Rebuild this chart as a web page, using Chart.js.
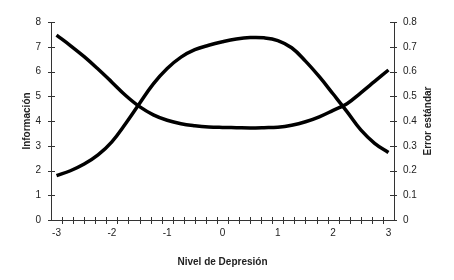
<!DOCTYPE html>
<html>
<head>
<meta charset="utf-8">
<script src="https://cdn.jsdelivr.net/npm/chart.js@4.4.1/dist/chart.umd.min.js"></script>
<style>
  html, body { margin: 0; padding: 0; background: #fff; }
  #wrap { width: 454px; height: 280px; }
</style>
</head>
<body>
<div id="wrap"><canvas id="chart" width="454" height="280"></canvas></div>
<script>
// Nivel de depresión (theta) where the curves were read, every 0.25
const nivel = [-3, -2.75, -2.5, -2.25, -2, -1.75, -1.5, -1.25, -1, -0.75, -0.5, -0.25,
  0, 0.25, 0.5, 0.75, 1, 1.25, 1.5, 1.75, 2, 2.25, 2.5, 2.75, 3];
// Función de información (eje izquierdo)
const informacion = [1.79, 1.99, 2.26, 2.63, 3.16, 3.9, 4.71, 5.5, 6.12, 6.58, 6.88, 7.06,
  7.2, 7.31, 7.37, 7.36, 7.25, 6.96, 6.42, 5.79, 5.09, 4.38, 3.64, 3.1, 2.73];
// Error estándar (eje derecho)
const errorEstandar = [0.747, 0.705, 0.66, 0.61, 0.557, 0.503, 0.458, 0.425, 0.403, 0.389, 0.381, 0.376,
  0.374, 0.373, 0.372, 0.373, 0.375, 0.383, 0.397, 0.417, 0.443, 0.47, 0.514, 0.56, 0.606];

const xTickLabels = [-3, -2, -1, 0, 1, 2, 3];
const xMin = -3.1, xMax = 3.1, xStep = 0.2;

const axisColor = "#333";
const textColor = "#222";
const fontFamily = "'Liberation Sans', Arial, sans-serif";

function toPoints(xs, ys) {
  return xs.map((x, i) => ({ x: x, y: ys[i] }));
}

// Excel-style tick marks that cross the axis lines
const crossTicks = {
  id: "crossTicks",
  afterDraw(chart) {
    const ctx = chart.ctx;
    const x = chart.scales.x;
    const yL = chart.scales.yInfo;
    const yR = chart.scales.yError;
    const area = chart.chartArea;
    ctx.save();
    ctx.strokeStyle = axisColor;
    ctx.lineWidth = 1;
    ctx.beginPath();
    for (let v = xMin + xStep; v < xMax - xStep / 2; v += xStep) {
      const px = Math.round(x.getPixelForValue(v)) + 0.5;
      ctx.moveTo(px, area.bottom - 3);
      ctx.lineTo(px, area.bottom + 4);
    }
    yL.ticks.forEach((t) => {
      const py = Math.round(yL.getPixelForValue(t.value)) + 0.5;
      ctx.moveTo(area.left - 3, py);
      ctx.lineTo(area.left + 4, py);
    });
    yR.ticks.forEach((t) => {
      const py = Math.round(yR.getPixelForValue(t.value)) + 0.5;
      ctx.moveTo(area.right - 4, py);
      ctx.lineTo(area.right + 3, py);
    });
    ctx.stroke();

    // right axis title reads bottom-to-top like the left one
    ctx.fillStyle = textColor;
    ctx.font = "bold 10px " + fontFamily;
    ctx.textAlign = "center";
    ctx.textBaseline = "middle";
    ctx.translate(428, (area.top + area.bottom) / 2);
    ctx.rotate(-Math.PI / 2);
    ctx.fillText("Error estándar", 0, 0);
    ctx.restore();
  }
};

const ctx = document.getElementById("chart").getContext("2d");
new Chart(ctx, {
  type: "line",
  data: {
    datasets: [
      {
        label: "Información",
        data: toPoints(nivel, informacion),
        yAxisID: "yInfo",
        borderColor: "#000",
        borderWidth: 3.5,
        pointRadius: 0,
        tension: 0.4,
        fill: false
      },
      {
        label: "Error estándar",
        data: toPoints(nivel, errorEstandar),
        yAxisID: "yError",
        borderColor: "#000",
        borderWidth: 3.5,
        pointRadius: 0,
        tension: 0.4,
        fill: false
      }
    ]
  },
  options: {
    responsive: false,
    animation: false,
    layout: { padding: { top: 22, left: 0, right: 0, bottom: 0 } },
    plugins: {
      legend: { display: false },
      tooltip: { enabled: false }
    },
    scales: {
      x: {
        type: "linear",
        min: xMin,
        max: xMax,
        afterBuildTicks: (scale) => {
          scale.ticks = xTickLabels.map((v) => ({ value: v }));
        },
        afterFit: (scale) => { scale.height = 60; },
        grid: { display: false, drawTicks: false },
        border: { display: true, color: axisColor, width: 1 },
        ticks: {
          padding: 7,
          color: textColor,
          font: { family: fontFamily, size: 10 },
          callback: (v) => String(v)
        },
        title: {
          display: true,
          text: "Nivel de Depresión",
          color: textColor,
          font: { family: fontFamily, size: 10, weight: "bold" },
          padding: { top: 0, bottom: 12 }
        }
      },
      yInfo: {
        type: "linear",
        position: "left",
        min: 0,
        max: 8,
        ticks: {
          stepSize: 1,
          padding: 10,
          color: textColor,
          font: { family: fontFamily, size: 10 }
        },
        afterFit: (scale) => { scale.width = 51; },
        grid: { display: false, drawTicks: false },
        border: { display: true, color: axisColor, width: 1 },
        title: {
          display: true,
          text: "Información",
          color: textColor,
          font: { family: fontFamily, size: 10, weight: "bold" },
          padding: { top: 21, bottom: 0 }
        }
      },
      yError: {
        type: "linear",
        position: "right",
        min: 0,
        max: 0.8,
        ticks: {
          stepSize: 0.1,
          padding: 9,
          color: textColor,
          font: { family: fontFamily, size: 10 },
          callback: (v) => (Math.abs(v) < 1e-9 ? "0" : v.toFixed(1))
        },
        afterFit: (scale) => { scale.width = 60; },
        grid: { display: false, drawTicks: false },
        border: { display: true, color: axisColor, width: 1 }
      }
    }
  },
  plugins: [crossTicks]
});
</script>
</body>
</html>
